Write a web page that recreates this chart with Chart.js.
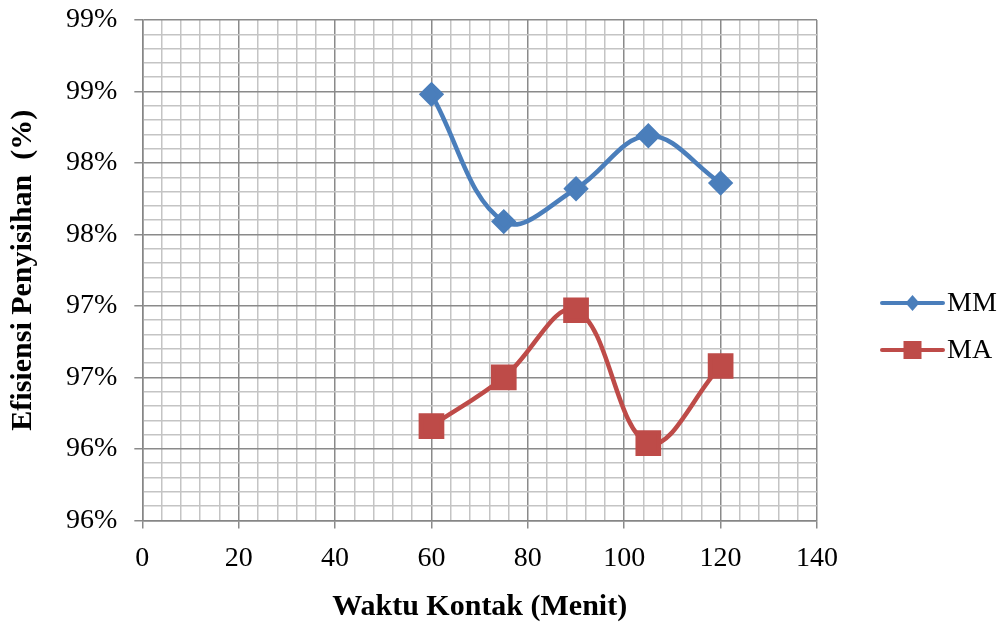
<!DOCTYPE html>
<html>
<head>
<meta charset="utf-8">
<script src="https://cdn.jsdelivr.net/npm/chart.js@4/dist/chart.umd.min.js"></script>
<style>
  html, body { margin: 0; padding: 0; background: #fff; }
</style>
</head>
<body>
<canvas id="efisiensiChart" width="1006" height="625"></canvas>
<script>
// Contact time (minutes) and removal efficiency (%) for each media
const waktuKontak = [60, 75, 90, 105, 120];
const mmValues = [98.48, 97.59, 97.82, 98.19, 97.86];
const maValues = [96.16, 96.50, 96.97, 96.04, 96.58];

// Labelled ticks; the grid between them is split in fifths
const xMajorTicks = [0, 20, 40, 60, 80, 100, 120, 140];
const yMajorTicks = [95.5, 96, 96.5, 97, 97.5, 98, 98.5, 99];
const yTickLabels = ['96%', '96%', '97%', '97%', '98%', '98%', '99%', '99%'];

const blue = '#4a7ebb';
const red = '#be4b48';
const serif = '"Liberation Serif", "Times New Roman", serif';

function isMajor(list, v) {
    return list.some(t => Math.abs(t - v) < 1e-6);
}

// Legend on the right: short line with the marker in the middle, then the name
const sideLegend = {
    id: 'sideLegend',
    afterDraw(chart) {
        const ctx = chart.ctx;
        const area = chart.chartArea;
        const x0 = area.right + 65;
        const x1 = area.right + 126;
        const xm = (x0 + x1) / 2;
        ctx.save();
        chart.data.datasets.forEach((ds, i) => {
            const y = area.top + 283 + i * 47;
            ctx.strokeStyle = ds.borderColor;
            ctx.fillStyle = ds.borderColor;
            ctx.lineWidth = 4;
            ctx.lineCap = 'round';
            ctx.beginPath();
            ctx.moveTo(x0, y);
            ctx.lineTo(x1, y);
            ctx.stroke();
            if (ds.pointStyle === 'rectRot') {
                ctx.beginPath();
                ctx.moveTo(xm, y - 8);
                ctx.lineTo(xm + 7, y);
                ctx.lineTo(xm, y + 8);
                ctx.lineTo(xm - 7, y);
                ctx.closePath();
                ctx.fill();
            } else {
                ctx.fillRect(xm - 9, y - 9, 18, 18);
            }
            ctx.fillStyle = '#000';
            ctx.font = '28px ' + serif;
            ctx.textAlign = 'left';
            ctx.textBaseline = 'middle';
            ctx.fillText(ds.label, x1 + 4, y + 1);
        });
        ctx.restore();
    }
};

const data = {
    datasets: [{
        label: 'MM',
        data: waktuKontak.map((x, i) => ({ x: x, y: mmValues[i] })),
        borderColor: blue,
        backgroundColor: blue,
        borderWidth: 4.5,
        pointStyle: 'rectRot',
        pointRadius: 9.5,
        pointHoverRadius: 9.5,
        tension: 0.38
    }, {
        label: 'MA',
        data: waktuKontak.map((x, i) => ({ x: x, y: maValues[i] })),
        borderColor: red,
        backgroundColor: red,
        borderWidth: 4.5,
        pointStyle: 'rect',
        pointRadius: 15,
        pointHoverRadius: 15,
        tension: 0.38
    }]
};

const config = {
    type: 'line',
    data: data,
    options: {
        responsive: false,
        devicePixelRatio: 1,
        animation: false,
        layout: {
            padding: { top: 20, right: 189, bottom: 0, left: 5 }
        },
        plugins: {
            tooltip: { enabled: false },
            legend: { display: false }
        },
        scales: {
            x: {
                type: 'linear',
                min: 0,
                max: 140,
                ticks: {
                    stepSize: 4,
                    autoSkip: false,
                    maxRotation: 0,
                    color: '#000',
                    padding: 13,
                    font: { family: serif, size: 28 },
                    callback: v => isMajor(xMajorTicks, v) ? String(v) : ''
                },
                grid: {
                    color: ctx => isMajor(xMajorTicks, ctx.tick.value) ? '#8a8a8a' : '#c4c4c4',
                    tickColor: ctx => isMajor(xMajorTicks, ctx.tick.value) ? '#8a8a8a' : 'rgba(0,0,0,0)',
                    lineWidth: 1.5,
                    tickLength: 8
                },
                border: { color: '#868686', width: 1.5 },
                title: {
                    display: true,
                    text: 'Waktu Kontak (Menit)',
                    color: '#000',
                    font: { family: serif, size: 30, weight: 'bold' },
                    padding: { top: 1, bottom: 0 }
                }
            },
            y: {
                min: 95.5,
                max: 99,
                afterBuildTicks: scale => {
                    const ticks = [];
                    for (let i = 0; i <= 35; i++) {
                        ticks.push({ value: Math.round((95.5 + i * 0.1) * 10) / 10 });
                    }
                    scale.ticks = ticks;
                },
                // let the top label overhang the layout padding
                afterFit: scale => {
                    scale.paddingTop = 0;
                    scale.paddingBottom = 0;
                },
                ticks: {
                    autoSkip: false,
                    color: '#000',
                    padding: 17,
                    font: { family: serif, size: 28 },
                    callback: v => {
                        const k = yMajorTicks.findIndex(t => Math.abs(t - v) < 1e-6);
                        return k >= 0 ? yTickLabels[k] : '';
                    }
                },
                grid: {
                    color: ctx => isMajor(yMajorTicks, ctx.tick.value) ? '#8a8a8a' : '#c4c4c4',
                    tickColor: ctx => isMajor(yMajorTicks, ctx.tick.value) ? '#8a8a8a' : 'rgba(0,0,0,0)',
                    lineWidth: 1.5,
                    tickLength: 8
                },
                border: { color: '#868686', width: 1.5 },
                title: {
                    display: true,
                    text: 'Efisiensi Penyisihan  (%)',
                    color: '#000',
                    font: { family: serif, size: 30, weight: 'bold' },
                    padding: { top: 0, bottom: 8 }
                }
            }
        }
    },
    plugins: [sideLegend]
};

const canvas = document.getElementById('efisiensiChart');
var efisiensiChart = new Chart(canvas, config);
</script>
</body>
</html>
